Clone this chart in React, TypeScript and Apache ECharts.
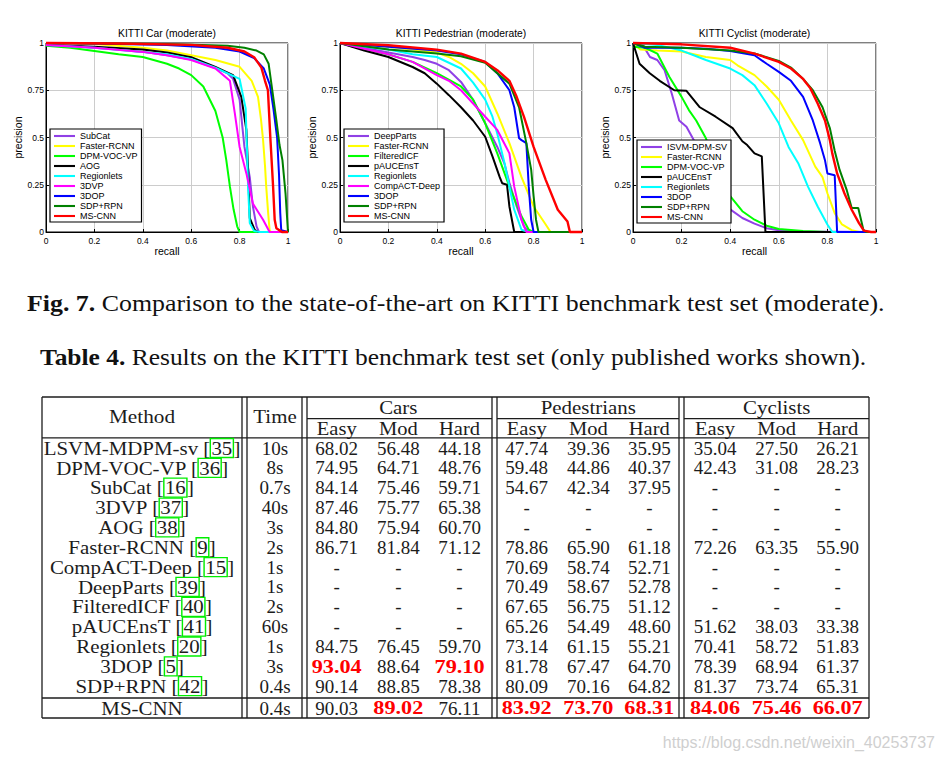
import React, { useEffect, useRef } from "react";
import * as echarts from "echarts";

// ---------------- PR curves: [recall, precision] ----------------
const carSubCat = [[0, 0.99], [0.1, 0.985], [0.2, 0.975], [0.3, 0.965], [0.4, 0.953], [0.5, 0.935], [0.6, 0.912], [0.7, 0.868], [0.75, 0.84], [0.773, 0.81], [0.8, 0.7], [0.82, 0.45], [0.842, 0.29], [0.855, 0.135], [0.87, 0.03], [0.88, 0], [1, 0]];
const carFaster = [[0, 1], [0.2, 0.995], [0.4, 0.975], [0.5, 0.96], [0.6, 0.935], [0.7, 0.91], [0.8, 0.874], [0.85, 0.8], [0.876, 0.715], [0.888, 0.6], [0.897, 0.487], [0.905, 0.35], [0.91, 0.24], [0.918, 0.1], [0.924, 0.01], [0.93, 0], [1, 0]];
const carDPM = [[0, 0.985], [0.1, 0.975], [0.2, 0.958], [0.3, 0.94], [0.4, 0.926], [0.5, 0.89], [0.55, 0.865], [0.6, 0.83], [0.65, 0.77], [0.7, 0.64], [0.73, 0.5], [0.745, 0.38], [0.76, 0.24], [0.775, 0.12], [0.79, 0.03], [0.8, 0], [1, 0]];
const carAOG = [[0, 0.99], [0.2, 0.98], [0.4, 0.965], [0.5, 0.95], [0.6, 0.925], [0.7, 0.874], [0.773, 0.83], [0.807, 0.715], [0.828, 0.54], [0.835, 0.33], [0.842, 0.074], [0.862, 0.012], [0.876, 0], [1, 0]];
const carRegionlets = [[0, 0.99], [0.2, 0.975], [0.4, 0.953], [0.5, 0.94], [0.6, 0.915], [0.7, 0.87], [0.8, 0.81], [0.825, 0.654], [0.831, 0.417], [0.835, 0.24], [0.842, 0.047], [0.86, 0.005], [0.883, 0], [1, 0]];
const car3DVP = [[0, 0.99], [0.2, 0.975], [0.4, 0.953], [0.5, 0.935], [0.6, 0.91], [0.7, 0.865], [0.76, 0.8], [0.78, 0.63], [0.8, 0.45], [0.828, 0.31], [0.855, 0.15], [0.897, 0.065], [0.924, 0], [1, 0]];
const car3DOP = [[0, 1], [0.3, 0.995], [0.5, 0.99], [0.7, 0.975], [0.8, 0.955], [0.86, 0.92], [0.9, 0.865], [0.925, 0.78], [0.94, 0.65], [0.955, 0.5], [0.963, 0.3], [0.968, 0.1], [0.972, 0.01], [1, 0]];
const carSDP = [[0, 1], [0.5, 0.995], [0.75, 0.985], [0.82, 0.975], [0.87, 0.96], [0.9, 0.94], [0.92, 0.89], [0.935, 0.75], [0.952, 0.59], [0.965, 0.46], [0.977, 0.38], [0.99, 0.2], [1, 0]];
const carMSCNN = [[0, 1], [0.3, 0.997], [0.6, 0.99], [0.75, 0.975], [0.82, 0.955], [0.86, 0.925], [0.89, 0.87], [0.905, 0.8], [0.917, 0.75], [0.927, 0.5], [0.938, 0.25], [0.945, 0.065], [0.952, 0.02], [0.975, 0], [1, 0]];

const pedDeepParts = [[0, 1], [0.1, 0.975], [0.2, 0.95], [0.3, 0.926], [0.35, 0.91], [0.4, 0.89], [0.45, 0.856], [0.5, 0.794], [0.55, 0.7], [0.6, 0.575], [0.65, 0.45], [0.68, 0.36], [0.7, 0.26], [0.73, 0.135], [0.76, 0.03], [0.78, 0], [1, 0]];
const pedFaster = [[0, 1], [0.2, 0.98], [0.3, 0.965], [0.4, 0.95], [0.45, 0.926], [0.5, 0.89], [0.55, 0.84], [0.6, 0.77], [0.65, 0.627], [0.7, 0.47], [0.75, 0.29], [0.8, 0.135], [0.85, 0.04], [0.87, 0], [1, 0]];
const pedFilteredICF = [[0, 1], [0.1, 0.965], [0.2, 0.94], [0.3, 0.9], [0.4, 0.84], [0.5, 0.77], [0.55, 0.7], [0.6, 0.575], [0.65, 0.416], [0.7, 0.24], [0.75, 0.083], [0.78, 0.012], [0.8, 0], [1, 0]];
const pedPAUC = [[0, 1], [0.05, 0.98], [0.1, 0.96], [0.2, 0.926], [0.3, 0.873], [0.35, 0.84], [0.4, 0.785], [0.45, 0.724], [0.5, 0.66], [0.55, 0.59], [0.6, 0.504], [0.63, 0.4], [0.66, 0.29], [0.67, 0.258], [0.69, 0.25], [0.7, 0.135], [0.72, 0], [1, 0]];
const pedRegionlets = [[0, 1], [0.1, 0.98], [0.2, 0.965], [0.3, 0.94], [0.4, 0.926], [0.5, 0.865], [0.55, 0.79], [0.6, 0.7], [0.63, 0.61], [0.65, 0.52], [0.68, 0.364], [0.7, 0.24], [0.72, 0.118], [0.75, 0.012], [0.78, 0], [1, 0]];
const pedCompACT = [[0, 1], [0.1, 0.97], [0.2, 0.94], [0.3, 0.9], [0.4, 0.83], [0.45, 0.8], [0.5, 0.75], [0.55, 0.68], [0.6, 0.61], [0.65, 0.54], [0.7, 0.416], [0.72, 0.24], [0.75, 0.065], [0.77, 0], [1, 0]];
const ped3DOP = [[0, 1], [0.2, 0.98], [0.4, 0.96], [0.5, 0.94], [0.6, 0.9], [0.65, 0.84], [0.7, 0.75], [0.72, 0.66], [0.74, 0.496], [0.75, 0.486], [0.77, 0.47], [0.78, 0.24], [0.79, 0.065], [0.8, 0], [1, 0]];
const pedSDP = [[0, 1], [0.2, 0.965], [0.4, 0.945], [0.5, 0.93], [0.6, 0.895], [0.7, 0.785], [0.74, 0.66], [0.77, 0.47], [0.79, 0.33], [0.8, 0.19], [0.81, 0.065], [0.82, 0], [1, 0]];
const pedMSCNN = [[0, 1], [0.2, 0.988], [0.4, 0.965], [0.5, 0.944], [0.6, 0.9], [0.65, 0.856], [0.7, 0.8], [0.73, 0.715], [0.76, 0.61], [0.8, 0.45], [0.85, 0.276], [0.9, 0.118], [0.94, 0.056], [0.95, 0], [1, 0]];

const cycISVM = [[0, 1], [0.04, 0.99], [0.07, 0.926], [0.1, 0.91], [0.13, 0.856], [0.16, 0.73], [0.19, 0.59], [0.22, 0.557], [0.25, 0.487], [0.3, 0.35], [0.35, 0.22], [0.4, 0.12], [0.45, 0.074], [0.5, 0.044], [0.55, 0.02], [0.6, 0.009], [0.7, 0.002], [1, 0]];
const cycFaster = [[0, 1], [0.03, 0.965], [0.1, 0.96], [0.2, 0.955], [0.3, 0.926], [0.4, 0.91], [0.43, 0.882], [0.5, 0.83], [0.55, 0.77], [0.6, 0.7], [0.65, 0.59], [0.7, 0.486], [0.75, 0.346], [0.78, 0.29], [0.8, 0.205], [0.83, 0.1], [0.86, 0.04], [0.9, 0.01], [0.93, 0], [1, 0]];
const cycDPM = [[0, 0.98], [0.05, 0.975], [0.1, 0.944], [0.15, 0.82], [0.2, 0.715], [0.23, 0.645], [0.26, 0.59], [0.3, 0.496], [0.35, 0.33], [0.4, 0.19], [0.45, 0.11], [0.5, 0.065], [0.55, 0.033], [0.6, 0.016], [0.7, 0.005], [0.8, 0], [1, 0]];
const cycPAUC = [[0, 1], [0.027, 0.89], [0.069, 0.84], [0.11, 0.8], [0.17, 0.75], [0.22, 0.747], [0.275, 0.66], [0.34, 0.61], [0.41, 0.55], [0.45, 0.48], [0.47, 0.46], [0.5, 0.416], [0.53, 0.4], [0.545, 0], [1, 0]];
const cycRegionlets = [[0, 1], [0.1, 0.99], [0.2, 0.96], [0.25, 0.935], [0.3, 0.91], [0.4, 0.865], [0.45, 0.83], [0.5, 0.777], [0.55, 0.68], [0.6, 0.575], [0.64, 0.45], [0.68, 0.364], [0.72, 0.24], [0.76, 0.135], [0.8, 0.04], [0.82, 0], [1, 0]];
const cyc3DOP = [[0, 1], [0.05, 0.975], [0.2, 0.975], [0.3, 0.97], [0.4, 0.958], [0.5, 0.935], [0.55, 0.89], [0.6, 0.847], [0.65, 0.8], [0.7, 0.715], [0.74, 0.59], [0.77, 0.47], [0.79, 0.38], [0.8, 0.31], [0.83, 0.3], [0.84, 0], [1, 0]];
const cycSDP = [[0, 1], [0.05, 0.98], [0.2, 0.975], [0.4, 0.96], [0.5, 0.945], [0.6, 0.905], [0.65, 0.87], [0.7, 0.81], [0.74, 0.75], [0.78, 0.66], [0.81, 0.55], [0.83, 0.43], [0.85, 0.33], [0.88, 0.22], [0.9, 0.127], [0.927, 0.127], [0.948, 0.012], [0.96, 0], [1, 0]];
const cycMSCNN = [[0, 1], [0.2, 0.993], [0.4, 0.975], [0.5, 0.944], [0.6, 0.9], [0.65, 0.865], [0.7, 0.81], [0.73, 0.76], [0.76, 0.68], [0.79, 0.59], [0.81, 0.486], [0.82, 0.416], [0.84, 0.31], [0.87, 0.205], [0.9, 0.118], [0.93, 0.047], [0.95, 0.007], [0.98, 0], [1, 0]];

const chartTitles = ["KITTI Car (moderate)", "KITTI Pedestrian (moderate)", "KITTI Cyclist (moderate)"];
const carNames = ["SubCat", "Faster-RCNN", "DPM-VOC-VP", "AOG", "Regionlets", "3DVP", "3DOP", "SDP+RPN", "MS-CNN"];
const pedNames = ["DeepParts", "Faster-RCNN", "FilteredICF", "pAUCEnsT", "Regionlets", "CompACT-Deep", "3DOP", "SDP+RPN", "MS-CNN"];
const cycNames = ["ISVM-DPM-SV", "Faster-RCNN", "DPM-VOC-VP", "pAUCEnsT", "Regionlets", "3DOP", "SDP+RPN", "MS-CNN"];
const carCurves = [carSubCat, carFaster, carDPM, carAOG, carRegionlets, car3DVP, car3DOP, carSDP, carMSCNN];
const pedCurves = [pedDeepParts, pedFaster, pedFilteredICF, pedPAUC, pedRegionlets, pedCompACT, ped3DOP, pedSDP, pedMSCNN];
const cycCurves = [cycISVM, cycFaster, cycDPM, cycPAUC, cycRegionlets, cyc3DOP, cycSDP, cycMSCNN];
const xTicks = { min: 0, max: 1, step: 0.2 };
const yTicks = { min: 0, max: 1, step: 0.25 };

// ---------------- Table data ----------------
const figCaption = "Comparison to the state-of-the-art on KITTI benchmark test set (moderate).";
const tableCaption = "Results on the KITTI benchmark test set (only published works shown).";
const groupHeaders = ["Cars", "Pedestrians", "Cyclists"];
const subHeaders = ["Easy", "Mod", "Hard"];
const methods = ["LSVM-MDPM-sv", "DPM-VOC-VP", "SubCat", "3DVP", "AOG", "Faster-RCNN", "CompACT-Deep", "DeepParts", "FilteredICF", "pAUCEnsT", "Regionlets", "3DOP", "SDP+RPN", "MS-CNN"];
const refs = ["35", "36", "16", "37", "38", "9", "15", "39", "40", "41", "20", "5", "42", ""];
const times = ["10s", "8s", "0.7s", "40s", "3s", "2s", "1s", "1s", "2s", "60s", "1s", "3s", "0.4s", "0.4s"];
const carsAP = [[68.02, 56.48, 44.18], [74.95, 64.71, 48.76], [84.14, 75.46, 59.71], [87.46, 75.77, 65.38], [84.80, 75.94, 60.70], [86.71, 81.84, 71.12], null, null, null, null, [84.75, 76.45, 59.70], [93.04, 88.64, 79.10], [90.14, 88.85, 78.38], [90.03, 89.02, 76.11]];
const pedsAP = [[47.74, 39.36, 35.95], [59.48, 44.86, 40.37], [54.67, 42.34, 37.95], null, null, [78.86, 65.90, 61.18], [70.69, 58.74, 52.71], [70.49, 58.67, 52.78], [67.65, 56.75, 51.12], [65.26, 54.49, 48.60], [73.14, 61.15, 55.21], [81.78, 67.47, 64.70], [80.09, 70.16, 64.82], [83.92, 73.70, 68.31]];
const cycAP = [[35.04, 27.50, 26.21], [42.43, 31.08, 28.23], null, null, null, [72.26, 63.35, 55.90], null, null, null, [51.62, 38.03, 33.38], [70.41, 58.72, 51.83], [78.39, 68.94, 61.37], [81.37, 73.74, 65.31], [84.06, 75.46, 66.07]];
const watermark = "https://blog.csdn.net/weixin_40253737";

// ---------------- styling / layout ----------------
const SANS = "'Liberation Sans', Arial, Helvetica, sans-serif";
const SERIF = "'Liberation Serif', 'Times New Roman', serif";
const INK = "#1c1c1c";
const C = { purple: "#9040e6", yellow: "#ffff00", lime: "#00ff00", black: "#000000", cyan: "#00ffff", magenta: "#ff00ff", blue: "#0000ff", dkgreen: "#008000", red: "#ff0000" };
const carColors = [C.purple, C.yellow, C.lime, C.black, C.cyan, C.magenta, C.blue, C.dkgreen, C.red];
const pedColors = [C.purple, C.yellow, C.lime, C.black, C.cyan, C.magenta, C.blue, C.dkgreen, C.red];
const cycColors = [C.purple, C.yellow, C.lime, C.black, C.cyan, C.blue, C.dkgreen, C.red];

const panels = [
  { names: carNames, curves: carCurves, colors: carColors, left: 46, width: 242, legendLeft: 50, legendTop: 129, nameGap: 19 },
  { names: pedNames, curves: pedCurves, colors: pedColors, left: 340, width: 242, legendLeft: 344, legendTop: 129, nameGap: 21 },
  { names: cycNames, curves: cycCurves, colors: cycColors, left: 633, width: 243, legendLeft: 637, legendTop: 140, nameGap: 18 },
];
const GRID_TOP = 43;
const GRID_H = 189;
const LEGEND_ICON = "path://M0,0L22,0L22,2.2L0,2.2Z";

function buildOption() {
  const grid: any[] = [];
  const xAxis: any[] = [];
  const yAxis: any[] = [];
  const legend: any[] = [];
  const series: any[] = [];
  const elements: any[] = [];

  panels.forEach((p, i) => {
    grid.push({ left: p.left, top: GRID_TOP, width: p.width, height: GRID_H, show: true, borderColor: "#000", borderWidth: 1, backgroundColor: "#fff" });
    const axisCommon = {
      gridIndex: i,
      type: "value",
      axisLine: { show: true, onZero: false, lineStyle: { color: "#000", width: 1 } },
      axisTick: { show: true, inside: true, length: 3, lineStyle: { color: "#000" } },
      splitLine: { show: true, lineStyle: { color: "#cccccc", width: 1 } },
      nameTextStyle: { fontSize: 10.5, color: "#000", fontFamily: SANS },
    };
    xAxis.push({
      ...axisCommon, min: xTicks.min, max: xTicks.max, interval: xTicks.step,
      name: "recall", nameLocation: "middle", nameGap: 12,
      axisLabel: { fontSize: 8.5, color: "#000", fontFamily: SANS, margin: 4 },
    });
    yAxis.push({
      ...axisCommon, min: yTicks.min, max: yTicks.max, interval: yTicks.step,
      name: "precision", nameLocation: "middle", nameGap: p.nameGap, nameRotate: 90,
      axisLabel: { fontSize: 8.5, color: "#000", fontFamily: SANS, margin: 2 },
    });
    legend.push({
      data: p.names, orient: "vertical", left: p.legendLeft, top: p.legendTop,
      icon: LEGEND_ICON, symbolKeepAspect: true,
      padding: [2, 4, 1, 4], itemGap: 0, itemWidth: 21, itemHeight: 10.7,
      borderColor: "#000", borderWidth: 1.2, backgroundColor: "#fff", selectedMode: false,
      textStyle: { fontSize: 9, lineHeight: 10, color: "#000", fontFamily: SANS },
    });
    p.names.forEach((name, k) => {
      series.push({
        type: "line", name, xAxisIndex: i, yAxisIndex: i, data: p.curves[k],
        color: p.colors[k], itemStyle: { color: p.colors[k] },
        symbol: "none", showSymbol: false, clip: false, silent: true,
        lineStyle: { width: name === "MS-CNN" ? 2.4 : 2, color: p.colors[k] },
      });
    });
    elements.push({
      type: "text", x: p.left + p.width / 2, y: 33.3,
      style: { text: chartTitles[i], fontSize: 10.3, fontFamily: SANS, fill: "#000", align: "center", verticalAlign: "middle" },
    });
  });

  // captions
  elements.push({
    type: "text", x: 27, y: 303, scaleX: 1.125,
    style: {
      text: "{b|Fig. 7.} " + figCaption, fontSize: 23, fontFamily: SERIF, fill: "#111", align: "left", verticalAlign: "middle",
      rich: { b: { fontSize: 23, fontFamily: SERIF, fontWeight: "bold", fill: "#111" } },
    },
  });
  elements.push({
    type: "text", x: 40, y: 357, scaleX: 1.107,
    style: {
      text: "{b|Table 4.} " + tableCaption, fontSize: 23, fontFamily: SERIF, fill: "#111", align: "left", verticalAlign: "middle",
      rich: { b: { fontSize: 23, fontFamily: SERIF, fontWeight: "bold", fill: "#111" } },
    },
  });

  // table frame
  const TL = 42, TR = 869, TT = 397, TB = 718;
  const hl = (y: number, x1: number, x2: number) => elements.push({ type: "line", shape: { x1, y1: y, x2, y2: y }, style: { stroke: INK, lineWidth: 1.3 } });
  const vl = (x: number) => elements.push({ type: "line", shape: { x1: x, y1: TT, x2: x, y2: TB }, style: { stroke: INK, lineWidth: 1.3 } });
  hl(TT, TL, TR); hl(437.8, TL, TR); hl(698, TL, TR); hl(TB, TL, TR);
  hl(418.7, 307, 492); hl(418.7, 497, 679); hl(418.7, 684, TR);
  [TL, 242, 247, 302, 307, 492, 497, 679, 684, TR].forEach(vl);

  const colX = [336.7, 398.3, 459.5, 526.7, 588.3, 649.3, 715, 776.7, 837.7];
  const groupX = [398.3, 588.3, 776.7];
  const word = (x: number, y: number, text: string, sx = 1.1) =>
    elements.push({ type: "text", x, y, scaleX: sx, style: { text, fontSize: 19, fontFamily: SERIF, fill: INK, align: "center", verticalAlign: "middle" } });

  word(142, 416.5, "Method", 1.12);
  word(275, 416.5, "Time", 1.1);
  groupHeaders.forEach((g, gi) => {
    word(groupX[gi], 407.5, g, 1.1);
    subHeaders.forEach((s, si) => word(colX[gi * 3 + si], 427.8, s, 1.08));
  });

  const groups = [carsAP, pedsAP, cycAP];
  const colMax: number[] = [];
  groups.forEach((g) => {
    for (let k = 0; k < 3; k++) {
      let m = -Infinity;
      g.forEach((r) => { if (r && r[k] > m) m = r[k]; });
      colMax.push(m);
    }
  });

  methods.forEach((m, ri) => {
    const y = ri < 13 ? 448 + ri * 19.85 : 708;
    const ref = refs[ri];
    const text = ref ? `${m} {b|[}{r|${ref}}{b|]}` : m;
    elements.push({
      type: "text", x: 142, y, scaleX: 1.1,
      style: {
        text, fontSize: 19, fontFamily: SERIF, fill: INK, align: "center", verticalAlign: "middle",
        rich: {
          b: { fontSize: 19, fontFamily: SERIF, fill: INK },
          r: { fontSize: 19, fontFamily: SERIF, fill: INK, borderColor: "#00ee00", borderWidth: 1.3, padding: [0, 1, 0, 1], lineHeight: 16 },
        },
      },
    });
    word(275, y, times[ri], 1.0);
    groups.forEach((g, gi) => {
      const r = g[ri];
      for (let k = 0; k < 3; k++) {
        const x = colX[gi * 3 + k];
        if (!r) {
          word(x, y, "-", 1.0);
        } else {
          const best = r[k] === colMax[gi * 3 + k];
          elements.push({
            type: "text", x, y, scaleX: best ? 1.17 : 1.0,
            style: { text: r[k].toFixed(2), fontSize: 19, fontFamily: SERIF, fontWeight: best ? "bold" : "normal", fill: best ? "#ff0000" : INK, align: "center", verticalAlign: "middle" },
          });
        }
      }
    });
  });

  elements.push({
    type: "text", x: 935, y: 742,
    style: { text: watermark, fontSize: 16, fontFamily: SANS, fill: "#cfcfcf", align: "right", verticalAlign: "middle" },
  });

  return {
    animation: false,
    backgroundColor: "#ffffff",
    grid, xAxis, yAxis, legend, series,
    graphic: { elements },
  };
}

export default function App() {
  const ref = useRef<HTMLDivElement>(null);
  useEffect(() => {
    const chart = echarts.init(ref.current as HTMLDivElement, null, { renderer: "svg", width: 945, height: 760 });
    chart.setOption(buildOption() as any);
    return () => chart.dispose();
  }, []);
  return <div ref={ref} style={{ position: "absolute", left: 0, top: 0, width: 945, height: 760, background: "#fff" }} />;
}
